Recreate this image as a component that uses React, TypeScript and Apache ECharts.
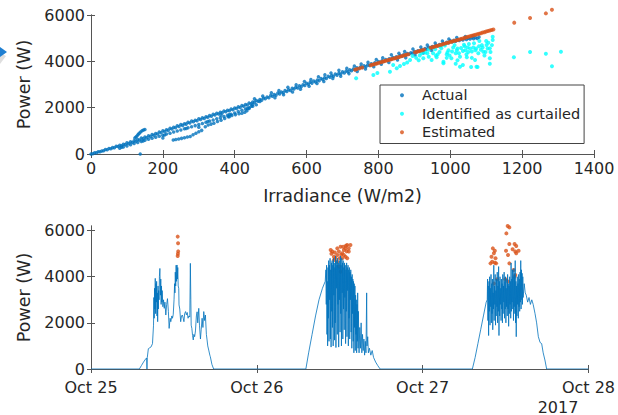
import React, { useEffect, useRef } from "react";
import * as echarts from "echarts";

// ---------- Top panel: Irradiance (W/m2) vs Power (W) ----------
const actualUpperRow: number[][] = [
  [0,0],[10,50],[20,95],[30,130],[40,190],[50,240],[60,275],[70,335],[80,380],[90,415],[100,480],[110,525],[120,570],[130,630],[140,690],[150,730],[160,790],[170,845],[180,885],[190,950],[200,1005],[210,1045],[220,1110],[230,1150],[240,1215],[250,1270],[260,1310],[270,1370],[280,1420],[290,1460],[300,1520],[310,1565],[320,1605],[330,1665],[340,1715],[350,1755],[360,1805],[370,1855],[380,1890],[390,1945],[400,1990],[410,2035],[420,2095],[430,2140],[440,2205],[450,2245],[460,2310],[470,2355],[480,2415],[490,2460],[500,2525],[510,2565],[520,2630],[530,2675],[540,2735],[550,2775],[560,2840],[570,2885],[580,2950],[590,2990],[600,3055],[610,3095],[620,3155],[630,3195],[640,3255],[650,3295],[660,3355],[670,3390],[680,3450],[690,3485],[700,3545],[710,3580],[720,3635],[730,3670],[740,3725],[750,3755],[760,3810],[770,3845],[780,3900],[790,3935],[800,3990],[810,4025],[820,4075],[830,4110],[840,4165],[850,4195],[860,4250],[870,4285],[880,4340],[890,4375],[900,4425],[910,4460],[920,4515],[930,4550],[940,4605],[950,4635],[960,4695],[970,4730],[980,4785],[990,4825],[1000,4885],[1010,4905],[1020,4945],[1030,4955],[1040,4985],[1050,4995],[1060,5015],[1070,5025],[1080,5045]
];
const actualLowerRow: number[][] = [
  [5,15],[15,55],[25,95],[35,140],[45,180],[55,230],[65,270],[75,320],[85,360],[95,410],[105,455],[115,500],[125,555],[135,600],[145,660],[155,705],[165,760],[175,810],[185,860],[195,915],[205,970],[215,1020],[225,1075],[235,1130],[245,1185],[255,1235],[265,1290],[275,1335],[285,1390],[295,1435],[305,1490],[315,1530],[325,1590],[335,1630],[345,1685],[355,1730],[365,1775],[375,1820],[385,1865],[395,1910],[405,1960],[415,2010],[425,2060],[435,2115],[445,2170],[455,2220],[465,2280],[475,2325],[485,2385],[495,2430],[505,2490],[515,2535],[525,2595],[535,2640],[545,2700],[555,2745],[565,2805],[575,2850],[585,2905],[595,2960],[605,3010],[615,3060],[625,3110],[635,3165],[645,3215],[655,3260],[665,3310],[675,3355],[685,3405],[695,3450],[705,3500],[715,3545],[725,3590],[735,3640],[745,3680],[755,3730],[765,3770],[775,3820],[785,3860],[795,3910],[805,3950],[815,3995],[825,4040],[835,4085],[845,4130],[855,4170],[865,4215],[875,4260],[885,4305],[895,4345],[905,4390],[915,4435],[925,4480],[935,4525],[945,4570],[955,4610],[965,4660],[975,4700],[985,4750],[995,4795],[1005,4840],[1015,4870],[1025,4900],[1035,4920],[1045,4945],[1055,4960],[1065,4975],[1075,4990]
];
const actualSpreadAbove: number[][] = [
  [455,2380],[478,2500],[502,2640],[523,2740],[548,2880],[571,2990],[594,3130],[612,3210],[633,3330],[651,3420],[668,3500],[690,3610],[712,3700],[733,3800],[752,3880],[771,3960],[794,4080],[812,4150],[836,4280],[857,4350],[873,4420],[896,4530],[918,4620],[936,4700],[958,4790],[978,4880],[996,4960],[1018,5030],[1042,5070],[1063,5100]
];
const actualSpreadBelow: number[][] = [
  [512,2430],[536,2560],[561,2680],[583,2800],[607,2920],[629,3040],[648,3130],[673,3260],[695,3360],[718,3470],[741,3560],[764,3670],[787,3770],[808,3870],[829,3950],[853,4060],[876,4150],[902,4270],[925,4360],[948,4470]
];
const actualSecondBand: number[][] = [
  [80,250],[90,300],[100,350],[110,400],[120,450],[130,500],[140,545],[150,590],[160,640],[170,680],[180,720],[190,765],[200,810],[210,860],[220,900],[230,950],[240,995],[250,1040],[260,1090],[270,1130],[280,1180],[290,1225],[300,1270],[310,1320],[320,1370],[330,1420],[340,1470],[350,1520],[360,1570],[370,1620],[380,1670],[390,1720],[400,1770],[410,1830],[420,1885],[430,1945],[440,2000],[450,2060],[460,2130],
  [85,290],[145,560],[205,820],[265,1100],[325,1400],[385,1700],[435,1960]
];
const actualThirdBranch: number[][] = [
  [229,600],[236,625],[244,650],[252,675],[260,700],[268,730],[276,760],[284,830],[292,900],[300,960],[308,1020],[318,1180],[326,1250],[334,1290],[342,1330],[352,1400],[362,1460],[372,1530],[382,1610],[392,1660],[402,1700],[412,1740],[420,1760],[428,1800],[434,1870],[440,1960],[446,2060],[450,2140]
];
const actualSpurAndStray: number[][] = [
  [122,690],[125,730],[128,780],[131,840],[134,890],[138,950],[142,1000],[146,1040],[150,1060],
  [137,0],[200,690],[385,1610],[362,1680],[470,2270],[300,1160]
];
const curtailedPoints: number[][] = [
  [738,3270],[786,3410],[797,3500],[832,3550],[851,3700],[841,3840],[860,3800],[871,3885],[880,3950],[888,4060],[895,4230],[905,4150],[912,4050],[915,4250],[920,4350],[925,4130],[930,4380],[936,4350],[940,4500],[940,4200],[948,4060],[952,4350],[958,4520],[960,4250],[962,4180],[965,4300],[970,4400],[972,4650],[975,4560],[981,3915],[981,3985],[985,4680],[990,4300],[990,4150],[992,4380],[995,4480],[998,4250],[1003,4130],[1005,4420],[1008,4600],[1012,4700],[1015,3900],[1015,4350],[1018,4480],[1020,4550],[1020,4050],[1024,4350],[1027,4200],[1027,3770],[1030,4580],[1035,3840],[1035,4450],[1038,4720],[1040,4650],[1042,4480],[1045,4300],[1046,4180],[1048,4600],[1050,4400],[1052,4750],[1055,4550],[1058,3755],[1060,4150],[1060,4420],[1064,4600],[1066,4780],[1069,4060],[1070,4480],[1072,4550],[1073,3770],[1076,3755],[1078,4350],[1080,4650],[1081,4877],[1085,4500],[1088,4700],[1090,4600],[1092,4415],[1095,4250],[1098,4400],[1100,4880],[1101,4705],[1104,4550],[1106,4800],[1110,4560],[1110,4130],[1110,3900],[1112,4400],[1116,4700],[1118,5063],[1118,4920],
  [1177,4173],[1222,4400],[1266,4330],[1283,3785],[1308,4415]
];
const estimatedPoints: number[][] = [
  [735,3640],[740,3665],[748,3700],[755,3730],[778,3830],[783,3855],[788,3875],[793,3900],[798,3920],[803,3945],[808,3965],[813,3990],[818,4010],[823,4035],[828,4055],[833,4080],[838,4100],[843,4125],[848,4145],[853,4170],[858,4190],[863,4215],[868,4235],[873,4260],[878,4280],[883,4305],[902,4390],[907,4410],[912,4435],[917,4455],[922,4480],[927,4505],[945,4585],[950,4610],[955,4630],[960,4655],[965,4675],[970,4700],[975,4720],[980,4745],[985,4765],[990,4790],[995,4810],[1000,4835],[1005,4855],[1010,4880],[1015,4900],[1020,4925],[1025,4945],[1030,4970],[1035,4990],[1040,5015],[1045,5035],[1050,5060],[1055,5080],[1060,5105],[1065,5125],[1070,5150],[1075,5170],[1080,5195],[1085,5215],[1090,5240],[1095,5260],[1100,5285],[1105,5305],[1110,5330],[1115,5350],[1120,5375],
  [1178,5670],[1222,5870],[1266,6070],[1283,6230]
];

// ---------- Bottom panel: power over time (hours since Oct 25 00:00) ----------
const powerDay1: number[][] = [
  [0,0],[7.0,0],[7.3,150],[7.6,300],[7.9,430],[8.05,480],[8.1,0],[8.15,500],[8.3,880],[8.5,920],[8.7,960],[8.9,1100],[9.05,1900],[9.1,3100],[9.15,2200],[9.2,3500],[9.25,2600],[9.3,3930],[9.35,2400],[9.4,3700],[9.45,2900],[9.5,3800],[9.55,2300],[9.6,3300],[9.65,2050],[9.7,3600],[9.75,2600],[9.8,3400],[9.85,3000],[9.9,4000],[9.97,4360],[10.05,3200],[10.1,3900],[10.15,2800],[10.2,3600],[10.26,2900],[10.3,3400],[10.4,2700],[10.5,3000],[10.6,2630],[10.7,2900],[10.83,2340],[10.95,2800],[11.07,3050],[11.2,2500],[11.31,1760],[11.45,2200],[11.55,2050],[11.7,2300],[11.79,2200],[11.9,2350],[12.02,3000],[12.1,3700],[12.15,3300],[12.2,4200],[12.26,3600],[12.32,4500],[12.38,3800],[12.45,4510],[12.5,3900],[12.56,4400],[12.62,3600],[12.7,3500],[12.74,2780],[12.85,2600],[12.98,2050],[13.1,2300],[13.22,2340],[13.35,2200],[13.45,2050],[13.55,2400],[13.69,2490],[13.8,2350],[13.93,2450],[14.05,2200],[14.17,2300],[14.3,2250],[14.38,4580],[14.45,3000],[14.5,1900],[14.6,1760],[14.7,1450],[14.8,1260],[14.89,1500],[15.0,1400],[15.12,1650],[15.25,2300],[15.36,2480],[15.45,2000],[15.6,2630],[15.7,1900],[15.84,1300],[15.95,1700],[16.08,2200],[16.2,1800],[16.32,2490],[16.45,2100],[16.56,2340],[16.7,1500],[16.8,1260],[16.9,1000],[17.04,820],[17.2,600],[17.27,535],[17.5,200],[17.75,0]
];
const powerDay2: number[][] = [
  [31.1,0],[31.5,700],[32.0,1500],[32.5,2300],[33.0,3000],[33.5,3500],[33.9,3800],
  [34.0,4300],[34.05,2800],[34.1,4500],[34.15,1500],[34.2,3800],[34.25,1000],[34.3,4400],[34.35,2200],[34.4,4700],[34.45,1200],[34.5,4500],[34.55,3000],[34.6,4800],[34.65,1300],[34.7,4300],[34.75,950],[34.8,4600],[34.85,2500],[34.9,4700],[34.95,1800],[35.0,4500],[35.05,1000],[35.1,4800],[35.15,3200],[35.2,4600],[35.25,1250],[35.3,4400],[35.35,2000],[35.4,4900],[35.45,930],[35.5,4700],[35.55,3500],[35.6,4500],[35.65,1500],[35.7,4800],[35.75,2800],[35.8,4600],[35.85,950],[35.9,4400],[35.95,3000],[36.0,4700],[36.05,1600],[36.1,4900],[36.15,2400],[36.2,4500],[36.25,1000],[36.3,4800],[36.35,3300],[36.4,4600],[36.45,1300],[36.5,4700],[36.55,2600],[36.6,4400],[36.65,1700],[36.7,4600],[36.75,3100],[36.8,4500],[36.85,1100],[36.9,4300],[36.95,2500],[37.0,4600],[37.05,1400],[37.1,4400],[37.15,3400],[37.2,4500],[37.25,1000],[37.3,4300],[37.35,2200],[37.4,4400],[37.45,1300],[37.5,4200],[37.55,3000],[37.6,4300],[37.65,1600],[37.7,4000],[37.75,900],[37.8,4100],[37.85,2400],[37.9,3900],[37.95,1200],[38.0,3800],[38.05,700],[38.1,3700],[38.15,1800],[38.2,3600],[38.25,800],[38.3,3200],[38.35,1500],[38.4,3000],[38.45,700],[38.5,2800],[38.55,1200],[38.6,3300],[38.65,900],[38.7,2500],[38.8,700],[38.9,1800],[39.0,900],[39.1,2000],[39.2,700],[39.3,1500],[39.4,800],[39.5,1300],[39.6,600],[39.7,1200],[39.8,700],[39.9,3300],[39.95,1000],[40.05,1400],[40.15,700],[40.3,900],[40.5,600],[40.7,800],[40.9,500],[41.2,300],[41.5,150],[41.85,0]
];
const powerDay3: number[][] = [
  [55.2,0],[55.6,500],[56.0,1100],[56.4,1700],[56.8,2300],[57.2,2900],[57.35,3000],[57.4,3900],[57.45,2100],[57.5,3600],[57.55,1450],[57.6,3800],[57.65,2500],[57.7,4000],[57.75,1900],[57.8,3500],[57.85,2700],[57.9,4100],[57.95,2000],[58.0,3700],[58.05,2400],[58.1,3900],[58.15,1700],[58.2,3300],[58.25,2600],[58.3,4500],[58.35,2100],[58.4,3600],[58.45,2800],[58.5,4100],[58.55,1900],[58.6,3400],[58.65,2300],[58.7,3900],[58.75,2700],[58.8,4200],[58.85,2000],[58.9,3600],[58.95,2500],[59.0,4440],[59.05,1450],[59.1,3800],[59.15,2300],[59.2,4000],[59.25,2800],[59.3,3500],[59.35,2100],[59.4,3900],[59.45,2600],[59.5,3700],[59.55,2000],[59.6,4100],[59.65,2400],[59.7,3600],[59.75,2900],[59.8,4200],[59.85,2200],[59.9,3800],[59.95,2600],[60.0,4000],[60.05,2000],[60.1,3500],[60.15,2700],[60.2,3900],[60.25,2300],[60.3,4100],[60.35,2600],[60.4,3700],[60.45,1850],[60.5,3600],[60.55,2400],[60.6,4000],[60.65,2800],[60.7,3800],[60.75,2200],[60.8,4600],[60.85,2500],[60.9,3900],[60.95,2900],[61.0,4300],[61.05,2600],[61.1,4000],[61.15,2100],[61.2,4350],[61.25,2700],[61.3,4100],[61.35,2400],[61.4,4700],[61.45,2000],[61.5,3800],[61.55,1400],[61.6,3600],[61.65,2300],[61.7,4000],[61.75,2800],[61.8,3700],[61.85,2200],[61.9,4100],[61.95,2700],[62.0,3900],[62.05,2500],[62.1,4200],[62.15,2900],[62.2,4700],[62.25,2600],[62.3,4300],[62.35,3000],[62.4,4150],[62.45,2800],[62.5,4000],[62.55,3100],[62.7,3700],[62.85,3300],[63.0,3200],[63.2,2900],[63.4,3100],[63.6,2800],[63.8,3000],[64.0,2800],[64.27,2400],[64.5,2000],[64.75,1400],[65.0,1150],[65.23,1100],[65.45,700],[65.7,390],[65.95,0],[72,0]
];
const estimatedPowerPoints: number[][] = [
  [12.55,5740],[12.6,5450],[12.62,5100],[12.58,5000],[12.55,4900],
  [34.69,5160],[34.93,5090],[35.16,4870],[35.40,4800],[35.64,5230],[35.88,5090],[36.12,5300],[36.36,5020],[36.60,5160],[36.84,5230],[37.08,5380],[37.31,5230],[37.55,5380],[35.64,4650],[35.88,4440],[36.12,4220],[36.0,4800],[36.36,4800],[36.84,4870],[36.60,4940],[37.31,5090],[35.64,4940],[35.16,4730],[37.08,4800],[34.8,5000],[36.2,4950],[36.5,5300],[37.0,5100],[35.3,5050],[36.9,5340],
  [60.31,6200],[60.55,6140],[60.12,5880],[58.16,5230],[58.45,5130],[58.31,5020],[57.97,4870],[58.55,4800],[58.07,4650],[58.45,4610],[57.83,4580],[58.64,4580],[60.55,5420],[61.31,5420],[61.55,5330],[61.02,5190],[61.41,5090],[61.89,5130],[61.55,5020],[60.07,5130],[60.36,4940],[60.55,4580],[61.17,4290],[61.41,4080],[61.31,4000],[58.78,3890],[58.31,3710],[59.98,3890],[60.36,3790]
];

const dayLabels = ["Oct 25", "Oct 26", "Oct 27", "Oct 28"];
const yearLabel = "2017";
const legendNames = ["Actual", "Identified as curtailed", "Estimated"];
const bottomPowerTicks = [0, 2000, 4000, 6000];

const FONT = "DejaVu Sans";
const TXT = "#262626";
const AX = "#555555";

export default function App() {
  const ref = useRef<HTMLDivElement>(null);
  useEffect(() => {
    if (!ref.current) return;
    const chart = echarts.init(ref.current, undefined, { renderer: "svg" });
    const axisLine = { show: true, lineStyle: { color: AX, width: 1 } };
    const tick = { show: true, inside: true, length: 4, lineStyle: { color: AX } };
    const label = { fontSize: 16, color: TXT, fontFamily: FONT };
    const hidden = { show: false };
    const plain = (v: number) => String(v);
    const actualPoints = [
      ...actualUpperRow, ...actualLowerRow, ...actualSpreadAbove, ...actualSpreadBelow,
      ...actualSecondBand, ...actualThirdBranch, ...actualSpurAndStray,
    ];
    const powerSeries = [...powerDay1, ...powerDay2, ...powerDay3];
    chart.setOption({
      animation: false,
      textStyle: { fontFamily: FONT },
      grid: [
        { left: 91, top: 15, width: 503, height: 139, containLabel: false },
        { left: 91, top: 226, width: 503, height: 143, containLabel: false },
      ],
      legend: {
        data: legendNames,
        orient: "vertical",
        left: 380,
        top: 85,
        padding: [1, 4, 2, 20],
        itemWidth: 30,
        itemHeight: 4,
        itemGap: 0,
        icon: "circle",
        backgroundColor: "#ffffff",
        borderColor: "#444444",
        borderWidth: 1,
        textStyle: { fontSize: 14.5, color: TXT, fontFamily: FONT, lineHeight: 18.5 },
      },
      xAxis: [
        {
          type: "value", gridIndex: 0, min: 0, max: 1400, interval: 200, position: "bottom",
          axisLine, axisTick: tick, axisLabel: { ...label, margin: 6, formatter: plain }, splitLine: hidden,
          name: "Irradiance (W/m2)", nameLocation: "middle", nameGap: 33,
          nameTextStyle: { fontSize: 17.5, color: TXT, fontFamily: FONT },
        },
        {
          type: "value", gridIndex: 0, min: 0, max: 1400, interval: 200, position: "top",
          axisLine, axisTick: tick, axisLabel: hidden, splitLine: hidden,
        },
        {
          type: "value", gridIndex: 1, min: 0, max: 72, interval: 24, position: "bottom",
          axisLine, axisTick: tick, splitLine: hidden,
          axisLabel: { ...label, margin: 10, formatter: (v: number) => dayLabels[Math.round(v / 24)] ?? "" },
        },
        {
          type: "value", gridIndex: 1, min: 0, max: 72, interval: 24, position: "top",
          axisLine, axisTick: tick, axisLabel: hidden, splitLine: hidden,
        },
      ],
      yAxis: [
        {
          type: "value", gridIndex: 0, min: 0, max: 6000, interval: 2000, position: "left",
          axisLine, axisTick: tick, axisLabel: { ...label, margin: 6, formatter: plain }, splitLine: hidden,
          name: "Power (W)", nameLocation: "middle", nameGap: 45,
          nameTextStyle: { fontSize: 17.5, color: TXT, fontFamily: FONT },
        },
        {
          type: "value", gridIndex: 0, min: 0, max: 6000, interval: 2000, position: "right",
          axisLine, axisTick: tick, axisLabel: hidden, splitLine: hidden,
        },
        {
          type: "value", gridIndex: 1, min: 0, max: 6200, interval: 2000, position: "left",
          axisLine, axisTick: { ...tick, customValues: bottomPowerTicks }, splitLine: hidden,
          axisLabel: { ...label, margin: 6, customValues: bottomPowerTicks, formatter: (v: number) => (v % 2000 === 0 ? String(v) : "") },
          name: "Power (W)", nameLocation: "middle", nameGap: 45,
          nameTextStyle: { fontSize: 17.5, color: TXT, fontFamily: FONT },
        },
        {
          type: "value", gridIndex: 1, min: 0, max: 6200, interval: 2000, position: "right",
          axisLine, axisTick: { ...tick, customValues: bottomPowerTicks }, axisLabel: hidden, splitLine: hidden,
        },
      ],
      series: [
        {
          type: "scatter", name: "Actual", xAxisIndex: 0, yAxisIndex: 0, data: actualPoints,
          symbol: "circle", symbolSize: 3.5, itemStyle: { color: "#0072BD" }, clip: false,
        },
        {
          type: "scatter", name: "Identified as curtailed", xAxisIndex: 0, yAxisIndex: 0, data: curtailedPoints,
          symbol: "circle", symbolSize: 4, itemStyle: { color: "#00FFFF" }, clip: false,
        },
        {
          type: "scatter", name: "Estimated", xAxisIndex: 0, yAxisIndex: 0, data: estimatedPoints,
          symbol: "circle", symbolSize: 4, itemStyle: { color: "#D95319" }, clip: false,
        },
        {
          type: "line", name: "Power over time", xAxisIndex: 2, yAxisIndex: 2, data: powerSeries,
          showSymbol: false, symbol: "none", lineStyle: { color: "#0072BD", width: 0.8 },
        },
        {
          type: "scatter", name: "Estimated power", xAxisIndex: 2, yAxisIndex: 2, data: estimatedPowerPoints,
          symbol: "circle", symbolSize: 4, itemStyle: { color: "#D95319" }, clip: false,
        },
      ],
      graphic: [
        { type: "polygon", shape: { points: [[0, 53], [6, 56], [0, 64]] }, style: { fill: "#d0d0d0", opacity: 0.7 } },
        { type: "polygon", shape: { points: [[0, 47], [7, 52], [0, 57]] }, style: { fill: "#1f7fd1" } },
        {
          type: "text", x: 558, y: 407,
          style: { text: yearLabel, fontSize: 16, fill: TXT, fontFamily: FONT, align: "center", verticalAlign: "middle" },
        },
      ],
    });
    return () => chart.dispose();
  }, []);
  return <div ref={ref} style={{ position: "absolute", left: 0, top: 0, width: 618, height: 415 }} />;
}
